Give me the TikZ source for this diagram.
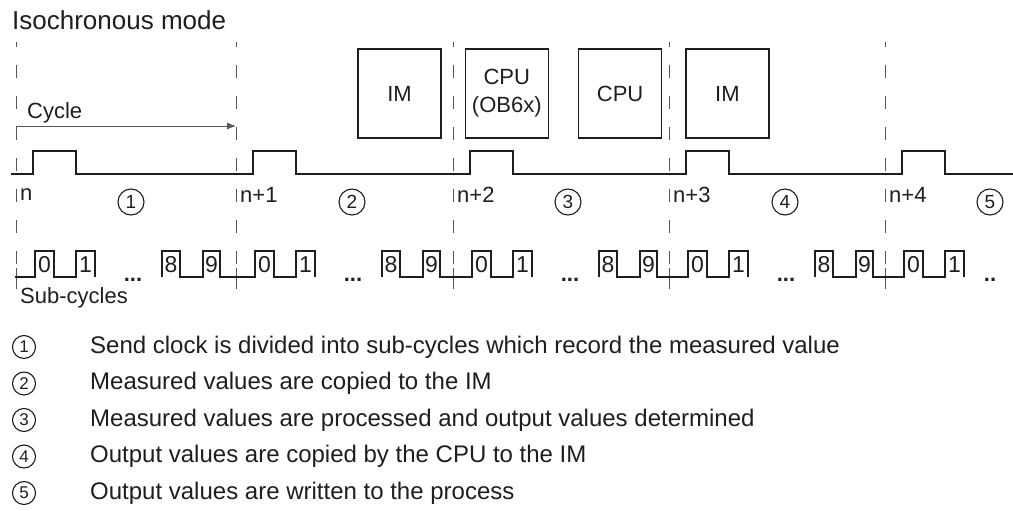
\documentclass[tikz,border=0pt]{standalone}
\usepackage{fontspec}
\setmainfont{Liberation Sans}
\usetikzlibrary{arrows.meta,positioning}
\definecolor{smink}{RGB}{30,30,30}
\definecolor{smgrey}{RGB}{85,85,85}
\tikzset{
    unitbox/.style={
        draw=smink,line width=1.3pt,minimum width=83pt,minimum height=89pt,
        inner sep=0pt,align=center,text=smink,font=\fontsize{22}{28}\selectfont
    },
    wave/.style={draw=smink,line width=1.6pt},
    subwave/.style={draw=smink,line width=1.3pt},
    cycline/.style={draw=smgrey,line width=0.9pt,dash pattern=on 13pt off 18pt,dash phase=8pt},
    tickmark/.style={draw=smgrey,line width=0.9pt},
    arrow/.style={-{Latex[length=9pt,width=7pt]},draw=smgrey,line width=0.9pt},
    lbl/.style={inner sep=0pt,text=smink,font=\fontsize{22}{26}\selectfont},
    digit/.style={inner sep=0pt,text=smink,font=\fontsize{23}{26}\selectfont},
    dots/.style={inner sep=0pt,anchor=base,text=smink,font=\fontsize{22}{24}\selectfont\bfseries},
    numc/.style={
        draw=smink,circle,line width=1.1pt,minimum size=#1,inner sep=0pt,
        text=smink,font=\fontsize{19}{19}\selectfont
    },
    numc/.default=26pt,
    legend/.style={anchor=west,inner sep=0pt,text=smink,font=\fontsize{24}{28}\selectfont}
}

\begin{document}
\begin{tikzpicture}[x=1pt,y=-1pt]
\useasboundingbox (0,0) rectangle (1013,511);

\node[lbl,anchor=base west,font=\fontsize{26}{30}\selectfont] (title) at (12,30) {Isochronous mode};

% cycle boundaries and labels
\foreach \x/\lab [count=\i] in {16/n,236/n+1,453/n+2,669/n+3,885/n+4}{
    \draw[cycline] (\x,42) -- (\x,288);
    \draw[tickmark] (\x,268) -- (\x,289);
    \node[lbl,anchor=west] (cyc\i) at (\x+4,195) {\lab};
}
\foreach \x/\k in {131/1,352/2,568/3,785/4,990/5}
    \node[numc] (ph\k) at (\x,202) {\k};

% cycle length
\coordinate (cyc-s) at (16,126);
\coordinate (cyc-e) at (236,126);
\draw[arrow] (cyc-s) -- (cyc-e);
\node[lbl,anchor=base west] (cyclbl) at (27,118) {Cycle};

% units
\node[unitbox] (im1) at (399.5,93.5) {IM};
\node[unitbox,right=23pt of im1] (cpu1) {CPU\\(OB6x)};
\node[unitbox,right=29pt of cpu1] (cpu2) {CPU};
\node[unitbox,right=23pt of cpu2] (im2) {IM};

% send clock
\draw[wave] (11,174)
    \foreach \x in {16,236,453,669,885}{
        -- (\x+17,174) -- (\x+17,151) -- (\x+60,151) -- (\x+60,174)
    } -- (1013,174);

% sub-cycles
\foreach \x [count=\i] in {16,236,453,669,885}{
    \draw[subwave] (\x-1,277) -- (\x+19,277) -- (\x+19,251) -- (\x+38,251) -- (\x+38,277)
        -- (\x+60,277) -- (\x+60,251) -- (\x+79,251) -- (\x+79,277);
    \node[digit] (sa\i) at (\x+28.5,265) {0};
    \node[digit] (sb\i) at (\x+69.5,265) {1};
}
\foreach \x/\nx [count=\i] in {16/236,236/453,453/669,669/885}{
    \draw[subwave] (\x+146,277) -- (\x+146,251) -- (\x+164,251) -- (\x+164,277)
        -- (\x+187,277) -- (\x+187,251) -- (\x+204,251) -- (\x+204,277) -- (\nx,277);
    \node[digit] (sc\i) at (\x+155,265) {8};
    \node[digit] (sd\i) at (\x+195.5,265) {9};
    \node[dots] (gap\i) at (\x+117,281) {...};
}
\node[dots] (gap5) at (990,281) {..};
\node[lbl,anchor=base west] (sublbl) at (20,303) {Sub-cycles};

% legend
\foreach \t [count=\i] in {
    Send clock is divided into sub-cycles which record the measured value,
    Measured values are copied to the IM,
    Measured values are processed and output values determined,
    Output values are copied by the CPU to the IM,
    Output values are written to the process}{
    \node[numc=23pt,font=\fontsize{17}{17}\selectfont] (lc\i) at (24,347+36.5*\i-36.5) {\i};
    \node[legend] (lt\i) at (90,347+36.5*\i-36.5) {\t};
}

\end{tikzpicture}
\end{document}
